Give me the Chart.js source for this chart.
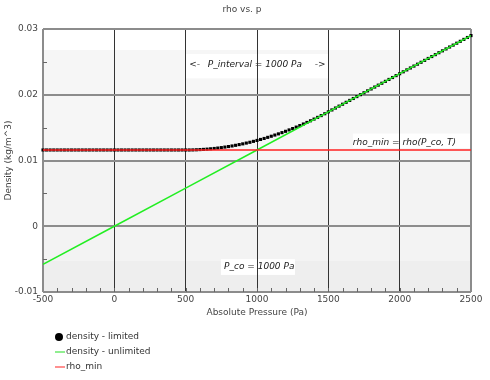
<!DOCTYPE html>
<html>
<head>
<meta charset="utf-8">
<script src="https://cdn.jsdelivr.net/npm/chart.js@4.4.0/dist/chart.umd.min.js"></script>
<style>
  body { margin: 0; background: #fff; }
</style>
</head>
<body>
<canvas id="myChart" width="490" height="380"></canvas>
<script>
// pressure (Pa) for the limited series, one point every 25 Pa
const pressure = [
  -500, -475, -450, -425, -400, -375, -350, -325, -300, -275,
  -250, -225, -200, -175, -150, -125, -100, -75, -50, -25,
  0, 25, 50, 75, 100, 125, 150, 175, 200, 225,
  250, 275, 300, 325, 350, 375, 400, 425, 450, 475,
  500, 525, 550, 575, 600, 625, 650, 675, 700, 725,
  750, 775, 800, 825, 850, 875, 900, 925, 950, 975,
  1000, 1025, 1050, 1075, 1100, 1125, 1150, 1175, 1200, 1225,
  1250, 1275, 1300, 1325, 1350, 1375, 1400, 1425, 1450, 1475,
  1500, 1525, 1550, 1575, 1600, 1625, 1650, 1675, 1700, 1725,
  1750, 1775, 1800, 1825, 1850, 1875, 1900, 1925, 1950, 1975,
  2000, 2025, 2050, 2075, 2100, 2125, 2150, 2175, 2200, 2225,
  2250, 2275, 2300, 2325, 2350, 2375, 2400, 2425, 2450, 2475,
  2500
];
const densityLimited = [
  0.0116, 0.0116, 0.0116, 0.0116, 0.0116, 0.0116, 0.0116, 0.0116, 0.0116, 0.0116,
  0.0116, 0.0116, 0.0116, 0.0116, 0.0116, 0.0116, 0.0116, 0.0116, 0.0116, 0.0116,
  0.0116, 0.0116, 0.0116, 0.0116, 0.0116, 0.0116, 0.0116, 0.0116, 0.0116, 0.0116,
  0.0116, 0.0116, 0.0116, 0.0116, 0.0116, 0.0116, 0.0116, 0.0116, 0.0116, 0.0116,
  0.0116, 0.01160, 0.01161, 0.01163, 0.01166, 0.01169, 0.01173, 0.01178, 0.01183, 0.01189,
  0.01196, 0.01204, 0.01212, 0.01221, 0.01231, 0.01242, 0.01253, 0.01265, 0.01277, 0.01291,
  0.01305, 0.01320, 0.01335, 0.01352, 0.01369, 0.01387, 0.01405, 0.01424, 0.01444, 0.01465,
  0.01486, 0.01508, 0.01531, 0.01555, 0.01579, 0.01604, 0.01630, 0.01656, 0.01683, 0.01711,
  0.01740, 0.01769, 0.01798, 0.01827, 0.01856, 0.01885, 0.01914, 0.01943, 0.01972, 0.02001,
  0.02030, 0.02059, 0.02088, 0.02117, 0.02146, 0.02175, 0.02204, 0.02233, 0.02262, 0.02291,
  0.02320, 0.02349, 0.02378, 0.02407, 0.02436, 0.02465, 0.02494, 0.02523, 0.02552, 0.02581,
  0.02610, 0.02639, 0.02668, 0.02697, 0.02726, 0.02755, 0.02784, 0.02813, 0.02842, 0.02871,
  0.02900
];
const unlimitedPressure = [-500, 0, 500, 1000, 1500, 2000, 2500];
const densityUnlimited = [-0.0058, 0, 0.0058, 0.0116, 0.0174, 0.0232, 0.0290];
const rhoMinPressure = [-500, 2500];
const rhoMin = [0.0116, 0.0116];

const seriesLabels = ['density - limited', 'density - unlimited', 'rho_min'];

const font = { family: 'DejaVu Sans', size: 9 };
const italic = 'italic 9px "DejaVu Sans"';

const pts = (xs, ys) => xs.map((p, i) => ({ x: p, y: ys[i] }));

const background = {
  id: 'background',
  beforeDraw(chart) {
    const { ctx, chartArea: a, scales: { x, y } } = chart;
    ctx.save();
    const band = (v1, v2, c) => {
      const y1 = y.getPixelForValue(v1), y2 = y.getPixelForValue(v2);
      ctx.fillStyle = c;
      ctx.fillRect(a.left, y1, a.right - a.left, y2 - y1);
    };
    band(0.03, 0.0268, '#ffffff');
    band(0.0268, 0.01, '#f6f6f6');
    band(0.01, -0.0052, '#f3f3f3');
    band(-0.0052, -0.01, '#eeeeee');

    const box = (p1, p2, v1, v2) => {
      const x1 = x.getPixelForValue(p1), x2 = x.getPixelForValue(p2);
      const y1 = y.getPixelForValue(v1), y2 = y.getPixelForValue(v2);
      ctx.fillStyle = '#ffffff';
      ctx.fillRect(x1, y1, x2 - x1, y2 - y1);
    };
    box(500, 1500, 0.0262, 0.0225);
    box(1672, 2500, 0.0141, 0.0119);
    box(747, 1266, -0.0050, -0.0074);

    ctx.fillStyle = '#222';
    ctx.font = italic;
    ctx.textBaseline = 'middle';
    const ty = y.getPixelForValue(0.0246);
    ctx.textAlign = 'left';
    ctx.fillText('<-', x.getPixelForValue(525), ty);
    ctx.textAlign = 'center';
    ctx.fillText('P_interval = 1000 Pa', x.getPixelForValue(985), ty);
    ctx.textAlign = 'right';
    ctx.fillText('->', x.getPixelForValue(1480), ty);
    ctx.fillText('rho_min = rho(P_co, T)', x.getPixelForValue(2395), y.getPixelForValue(0.01277));
    ctx.textAlign = 'left';
    ctx.fillText('P_co = 1000 Pa', x.getPixelForValue(769), y.getPixelForValue(-0.0062));
    ctx.restore();
  },
  beforeDatasetsDraw(chart) {
    // minor tick marks inside the plot
    const { ctx, chartArea: a, scales: { x, y } } = chart;
    ctx.save();
    ctx.strokeStyle = '#666';
    ctx.lineWidth = 1;
    ctx.beginPath();
    for (let p = -400; p < 2500; p += 100) {
      const px = Math.round(x.getPixelForValue(p)) + 0.5;
      ctx.moveTo(px, a.bottom);
      ctx.lineTo(px, a.bottom - 4);
    }
    for (let v = -0.005; v < 0.03; v += 0.01) {
      const py = Math.round(y.getPixelForValue(v)) + 0.5;
      ctx.moveTo(a.left, py);
      ctx.lineTo(a.left + 4, py);
    }
    ctx.stroke();
    ctx.restore();
  },
  afterDraw(chart) {
    const { ctx, chartArea: a } = chart;
    ctx.save();
    // title
    ctx.fillStyle = '#444';
    ctx.font = '9px "DejaVu Sans"';
    ctx.textAlign = 'center';
    ctx.textBaseline = 'middle';
    ctx.fillText('rho vs. p', 242, 10);

    // legend
    const lx = 55, ly = a.bottom + 45;
    ctx.textAlign = 'left';
    chart.data.datasets.forEach((ds, i) => {
      const yy = ly + i * 15;
      if (i === 0) {
        ctx.fillStyle = '#000';
        ctx.beginPath();
        ctx.arc(lx + 4, yy, 4, 0, Math.PI * 2);
        ctx.fill();
      } else {
        ctx.strokeStyle = ds.legendColor;
        ctx.lineWidth = 2;
        ctx.beginPath();
        ctx.moveTo(lx, yy);
        ctx.lineTo(lx + 10, yy);
        ctx.stroke();
      }
      ctx.fillStyle = '#333';
      ctx.fillText(ds.label, lx + 11, yy);
    });
    ctx.restore();
  }
};

const edge = (c) => c.tick && (c.tick.value === -500 || c.tick.value === 2500);

const ctx = document.getElementById('myChart').getContext('2d');
const myChart = new Chart(ctx, {
  type: 'scatter',
  data: {
    datasets: [
      {
        label: seriesLabels[0],
        data: pts(pressure, densityLimited),
        backgroundColor: '#000',
        borderColor: '#000',
        pointStyle: 'rect',
        pointRadius: 2.2,
        pointBorderWidth: 0,
        showLine: false,
        clip: false,
        order: 3,
      },
      {
        label: seriesLabels[1],
        data: pts(unlimitedPressure, densityUnlimited),
        borderColor: '#22ee22',
        legendColor: '#90ee90',
        borderWidth: 1.5,
        pointRadius: 0,
        showLine: true,
        order: 2,
      },
      {
        label: seriesLabels[2],
        data: pts(rhoMinPressure, rhoMin),
        borderColor: '#ff2020',
        legendColor: '#ff9090',
        borderWidth: 1.5,
        pointRadius: 0,
        showLine: true,
        order: 1,
      },
    ],
  },
  options: {
    responsive: false,
    animation: false,
    events: [],
    layout: { padding: { top: 29, right: 19, bottom: 52, left: 0 } },
    plugins: {
      legend: { display: false },
      title: { display: false },
      tooltip: { enabled: false },
    },
    scales: {
      x: {
        type: 'linear',
        min: -500,
        max: 2500,
        afterFit: (s) => { s.height = 36; },
        border: { display: false },
        grid: {
          drawTicks: false,
          color: (c) => edge(c) ? '#8c8c8c' : '#333',
          lineWidth: (c) => edge(c) ? 2 : 1,
        },
        ticks: {
          stepSize: 500,
          color: '#444',
          font: font,
          padding: 2,
          callback: function (value) {
            return String(value);
          },
        },
        title: {
          display: true,
          text: 'Absolute Pressure (Pa)',
          color: '#444',
          font: font,
          padding: { top: 0, bottom: 10 },
        },
      },
      y: {
        min: -0.01,
        max: 0.03,
        afterFit: (s) => { s.width = 43; },
        border: { display: false },
        grid: { drawTicks: false, color: '#8c8c8c', lineWidth: 2 },
        ticks: {
          stepSize: 0.01,
          color: '#444',
          font: font,
          padding: 5,
          callback: function (value) {
            return Math.abs(value) < 1e-9 ? '0' : String(+value.toFixed(2));
          },
        },
        title: {
          display: true,
          text: 'Density (kg/m^3)',
          color: '#444',
          font: font,
          padding: { top: 3, bottom: 0 },
        },
      },
    },
  },
  plugins: [background],
});
</script>
</body>
</html>
